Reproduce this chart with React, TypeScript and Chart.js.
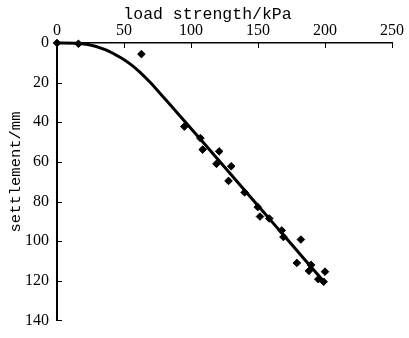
import React, { useEffect, useRef } from "react";
import { Chart, registerables } from "chart.js";

Chart.register(...registerables);

const measuredLoad = [0, 16, 63, 95, 107, 108.7, 121, 119, 130, 128, 140, 149.8, 151.5, 158.4, 167.7, 169, 182, 179, 189.6, 188, 200, 195, 199];
const measuredSettlement = [0, 0.4, 5.6, 42.2, 48, 53.8, 54.7, 61, 62.2, 69.6, 75.4, 82.8, 87.6, 88.6, 94.6, 97.9, 99.2, 111, 112, 115, 115.4, 119.2, 120.5];

const fitLoad = [0, 16, 24, 36, 48, 55, 62, 70, 80, 90, 100, 110, 120, 130, 140, 150, 160, 170, 180, 190, 200];
const fitSettlement = [0, 0.2, 0.9, 3.3, 7.6, 10.8, 14.8, 20.2, 27.8, 35.4, 43.1, 50.9, 58.7, 66.5, 74.3, 82.1, 89.9, 97.7, 105.5, 113.3, 121];

const xTicks = [0, 50, 100, 150, 200, 250];
const yTicks = [0, 20, 40, 60, 80, 100, 120, 140];

const xTitle = "load strength/kPa";
const yTitle = "settlement/mm";

const MONO = "'Liberation Mono', 'Courier New', monospace";
const SERIF = "'Liberation Serif', 'Times New Roman', serif";

const innerTicks = {
  id: "innerTicks",
  afterDraw(chart: any) {
    const ctx = chart.ctx;
    const xs = chart.scales.x;
    const ys = chart.scales.y;
    const area = chart.chartArea;
    ctx.save();
    ctx.strokeStyle = "#000";
    ctx.lineWidth = 1;
    xs.ticks.forEach((t: any) => {
      const px = Math.round(xs.getPixelForValue(t.value)) + 0.5;
      ctx.beginPath();
      ctx.moveTo(px, area.top);
      ctx.lineTo(px, area.top + 5);
      ctx.stroke();
    });
    ys.ticks.forEach((t: any) => {
      const py = Math.round(ys.getPixelForValue(t.value)) + 0.5;
      ctx.beginPath();
      ctx.moveTo(area.left, py);
      ctx.lineTo(area.left + 5, py);
      ctx.stroke();
    });
    // axis titles (placed as in the reference, slightly off-centre)
    ctx.fillStyle = "#000";
    ctx.font = `16.5px ${MONO}`;
    ctx.textAlign = "center";
    ctx.textBaseline = "alphabetic";
    ctx.fillText(xTitle, 207.5, 18.5);
    ctx.translate(19.5, 172);
    ctx.rotate(-Math.PI / 2);
    ctx.font = `15.5px ${MONO}`;
    ctx.fillText(yTitle, 0, 0);
    ctx.restore();
  },
};

export default function App() {
  const ref = useRef<HTMLCanvasElement>(null);
  useEffect(() => {
    if (!ref.current) return;
    const chart = new Chart(ref.current, {
      type: "scatter",
      data: {
        datasets: [
          {
            type: "line",
            data: fitLoad.map((x, i) => ({ x, y: fitSettlement[i] })),
            borderColor: "#000",
            borderWidth: 3,
            pointRadius: 0,
            cubicInterpolationMode: "monotone",
            fill: false,
            clip: false,
          } as any,
          {
            type: "scatter",
            data: measuredLoad.map((x, i) => ({ x, y: measuredSettlement[i] })),
            pointStyle: "rectRot",
            pointRadius: 3.8,
            backgroundColor: "#000",
            borderColor: "#000",
            borderWidth: 1,
            clip: false,
          } as any,
        ],
      },
      options: {
        animation: false,
        responsive: true,
        maintainAspectRatio: false,
        layout: { padding: { left: 0, top: 0, right: 17, bottom: 11 } },
        plugins: { legend: { display: false }, tooltip: { enabled: false } },
        scales: {
          x: {
            type: "linear",
            position: "top",
            min: 0,
            max: 250,
            afterBuildTicks: (s: any) => {
              s.ticks = xTicks.map((v) => ({ value: v }));
            },
            afterFit: (s: any) => {
              s.height = 43;
            },
            grid: { display: true, drawOnChartArea: false, drawTicks: false },
            border: { display: true, color: "#000", width: 1.5 },
            ticks: {
              padding: 3,
              color: "#000",
              font: { family: SERIF, size: 16 },
            },
            title: { display: false, text: xTitle },
          },
          y: {
            type: "linear",
            reverse: true,
            min: 0,
            max: 140,
            afterBuildTicks: (s: any) => {
              s.ticks = yTicks.map((v) => ({ value: v }));
            },
            afterFit: (s: any) => {
              s.width = 57;
            },
            grid: { display: true, drawOnChartArea: false, drawTicks: false },
            border: { display: true, color: "#000", width: 2 },
            ticks: {
              padding: 8,
              color: "#000",
              font: { family: SERIF, size: 16 },
            },
            title: { display: false, text: yTitle },
          },
        },
      },
      plugins: [innerTicks],
    });
    return () => chart.destroy();
  }, []);
  return (
    <div style={{ position: "fixed", left: 0, top: 0, width: 409, height: 338, background: "#fff" }}>
      <canvas ref={ref} />
    </div>
  );
}
